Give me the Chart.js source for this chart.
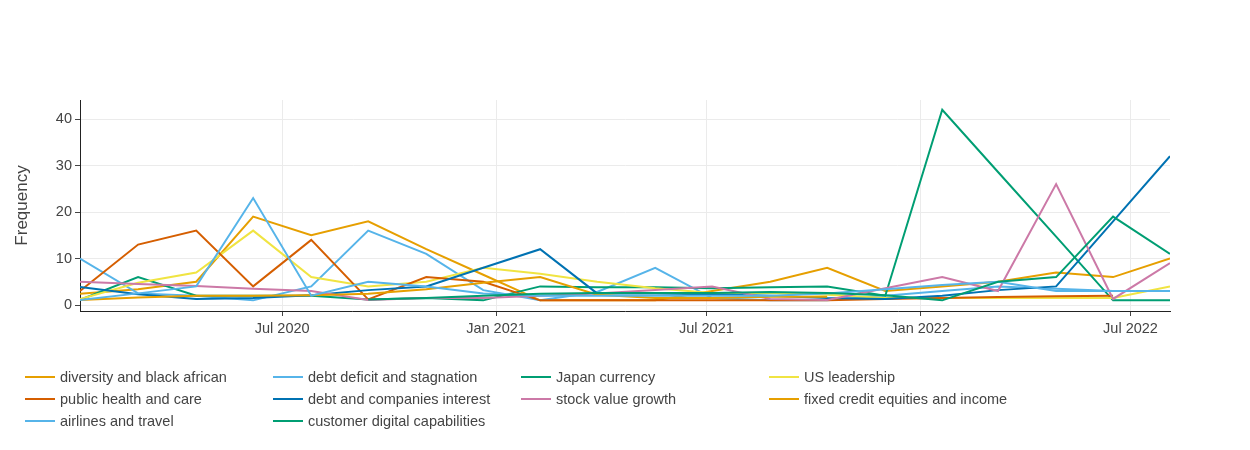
<!DOCTYPE html>
<html><head><meta charset="utf-8">
<script src="https://cdn.jsdelivr.net/npm/chart.js@4.4.0/dist/chart.umd.min.js"></script>
<style>
html,body{margin:0;padding:0;background:#fff;}
#wrap{position:relative;width:1250px;height:450px;overflow:hidden;}
#legend{position:absolute;left:0;top:0;width:1250px;height:450px;pointer-events:none;font-family:"Liberation Sans",Arial,sans-serif;font-size:14.5px;color:#444;}
.item{position:absolute;height:22px;display:flex;align-items:center;white-space:nowrap;}
.sw{width:30px;height:2px;margin-right:5px;}
</style></head>
<body><div id="wrap"><canvas id="c" width="1250" height="450"></canvas><div id="legend"></div></div>
<script>
const dates = ["2020-01-09","2020-02-28","2020-04-18","2020-06-06","2020-07-26","2020-09-13","2020-11-02","2020-12-21",
  "2021-02-08","2021-03-29","2021-05-18","2021-07-06","2021-08-25","2021-10-13","2021-12-02",
  "2022-01-20","2022-03-09","2022-04-28","2022-06-16","2022-08-04"];
const tickDates = ["2020-07-01","2021-01-01","2021-07-01","2022-01-01","2022-07-01"];
const tickLabels = ["Jul 2020","Jan 2021","Jul 2021","Jan 2022","Jul 2022"];
const yTicks = [0,10,20,30,40];

const seriesNames = ["diversity and black african","debt deficit and stagnation","Japan currency","US leadership",
  "public health and care","debt and companies interest","stock value growth","fixed credit equities and income",
  "airlines and travel","customer digital capabilities"];
const seriesColors = ["#E69F00","#56B4E9","#009E73","#F0E442","#D55E00","#0072B2","#CC79A7","#E69F00","#56B4E9","#009E73"];

const diversity     = [2.4, 3.4, 5, 19, 15, 18, 12, 6.5, 1, 1, 1, 3, 5, 8, 3, 4, 5, 7, 6, 10];
const debtDeficit   = [10, 2.5, 2, 1, 4, 16, 11, 3.2, 1, 2.8, 8, 1.5, 1, 1, 2, 3, 4, 3.5, 3, 3];
const japanCurrency = [1.1, 6, 2, 2, 2, 1.2, 1.5, 1, 4, 3.8, 3.8, 3.6, 3.8, 4, 2, 42, 28.6, 14.7, 1, 1];
const usLeadership  = [1.3, 4.8, 7, 16, 6, 4, 5, 8, 6.7, 5, 3.6, 2.6, 2.6, 2.2, 1.5, 1.5, 1.5, 1.5, 1.5, 4];
const publicHealth  = [3, 13, 16, 4, 14, 1.2, 6, 5, 1, 1, 1, 1, 1, 1, 1.3, 1.5, 1.7, 1.9, 2, null];
const debtCompanies = [3.9, 2.3, 1.3, 1.5, 2.1, 3.2, 4, 8, 12, 2.5, 2.5, 2.3, 2, 1.5, 1.3, 2, 3.2, 4, 18, 32];
const stockValue    = [5, 4.5, 4.1, 3.5, 3, 1.1, 1.5, 1.5, 2, 2.5, 3.2, 4, 1.3, 1.1, 3.6, 6, 3, 26, 1.3, 9];
const fixedCredit   = [1.1, 1.6, 2, 2, 2.1, 2.4, 3.4, 4.8, 6, 2.2, 1.5, 1.5, 1.8, 1.8, null, null, null, null, null, null];
const airlines      = [1.1, 2.5, 4, 23, 2, 5, 4, 2.5, 2, 2, 2, 2, 2, 2.5, 3.4, 4.3, 5, 3, 3, 3];
const customerDigital = [null, null, null, null, null, 1.2, 1.5, 2, 2.4, 2.6, 2.6, 2.6, 2.8, 2.6, 2.1, 1, 5, 6, 19, 11];

const seriesValues = [diversity, debtDeficit, japanCurrency, usLeadership, publicHealth, debtCompanies, stockValue, fixedCredit, airlines, customerDigital];

const EPOCH = Date.UTC(2020,0,1);
function dayOf(s){ const [y,m,d] = s.split('-').map(Number); return (Date.UTC(y,m-1,d)-EPOCH)/86400000; }
const xs = dates.map(dayOf);

const FONT = '"Liberation Sans", Arial, sans-serif';
const TXT = '#444';

const datasets = seriesValues.map((vals, i) => ({
  label: seriesNames[i],
  data: vals.map((v, j) => ({x: xs[j], y: v})),
  borderColor: seriesColors[i],
  backgroundColor: seriesColors[i],
  borderWidth: 2,
  pointRadius: 0,
  pointHoverRadius: 0,
  tension: 0,
  fill: false,
  spanGaps: false,
  order: seriesValues.length - i
}));

new Chart(document.getElementById('c'), {
  type: 'line',
  data: { datasets },
  options: {
    responsive: false,
    animation: false,
    events: [],
    layout: { padding: { left: 0, right: 80, top: 100, bottom: 109 } },
    plugins: { legend: { display: false }, tooltip: { enabled: false } },
    scales: {
      x: {
        type: 'linear',
        min: xs[0],
        max: xs[xs.length - 1],
        afterBuildTicks: (scale) => { scale.ticks = tickDates.map(d => ({ value: dayOf(d) })); },
        afterFit: (scale) => { scale.height = 30; },
        ticks: {
          autoSkip: false, maxRotation: 0, padding: 4,
          color: TXT, font: { family: FONT, size: 14.5 },
          callback: (v, idx) => tickLabels[idx]
        },
        grid: { color: '#ebebeb', lineWidth: 1, tickLength: 5, tickColor: '#444', drawTicks: true },
        border: { color: '#222', width: 1 }
      },
      y: {
        type: 'linear',
        min: -1.29,
        max: 44.09,
        afterBuildTicks: (scale) => { scale.ticks = yTicks.map(v => ({ value: v })); },
        afterFit: (scale) => { scale.width = 80; },
        ticks: { padding: 3, color: TXT, font: { family: FONT, size: 14.5 } },
        grid: { color: '#ebebeb', lineWidth: 1, tickLength: 5, tickColor: '#444', drawTicks: true },
        border: { color: '#222', width: 1 },
        title: { display: true, text: 'Frequency', color: TXT, font: { family: FONT, size: 17 }, padding: { top: 12, bottom: 0 } }
      }
    }
  }
});

const legend = document.getElementById('legend');
seriesNames.forEach((name, i) => {
  const col = i % 4, row = Math.floor(i / 4);
  const it = document.createElement('div');
  it.className = 'item';
  it.style.left = (25 + col * 248) + 'px';
  it.style.top = (366 + row * 22) + 'px';
  const sw = document.createElement('span');
  sw.className = 'sw';
  sw.style.background = seriesColors[i];
  const tx = document.createElement('span');
  tx.textContent = name;
  it.appendChild(sw); it.appendChild(tx);
  legend.appendChild(it);
});
</script>
</body></html>
